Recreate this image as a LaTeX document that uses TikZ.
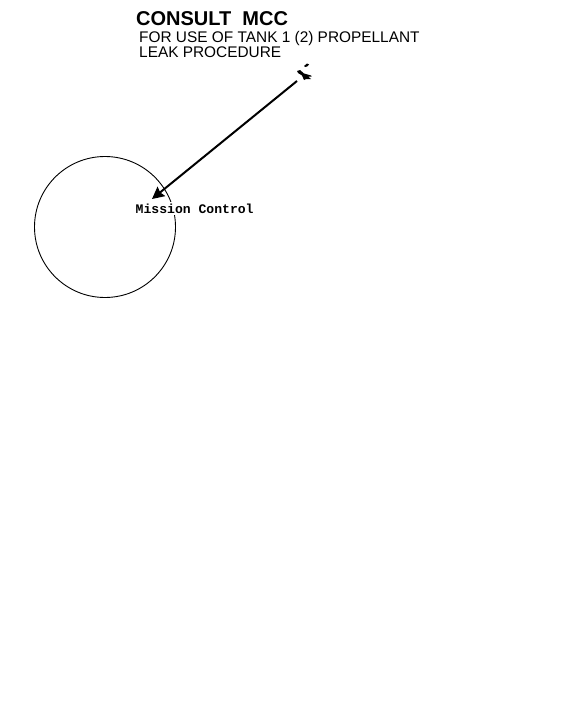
\documentclass[tikz,border=0pt]{standalone}
\usepackage{fontspec}
\setmainfont{Liberation Sans}
\setmonofont{Liberation Mono}
\usetikzlibrary{arrows.meta}
\tikzset{
  titletext/.style={anchor=base west,inner sep=0pt,font=\fontsize{20}{22}\selectfont\bfseries},
  subtext/.style={anchor=base west,inner sep=0pt,font=\fontsize{15.4}{17}\selectfont},
  labeltext/.style={anchor=base west,inner sep=1.5pt,fill=white,font=\fontsize{13.1}{15}\selectfont\ttfamily\bfseries},
  earth/.style={circle,draw=black,line width=0.9pt,minimum size=141pt,inner sep=0pt},
  link/.style={draw=black,line width=2pt,-{Stealth[length=12pt,width=12pt,inset=1.5pt]}}
}
\begin{document}
\begin{tikzpicture}[x=1pt,y=-1pt]
\useasboundingbox (0,0) rectangle (576,720);
\fill[white] (0,0) rectangle (576,720);
\node[earth] (earth) at (105,227) {};
\node[titletext] (title) at (136,25.5) {CONSULT\ \ MCC};
\node[subtext] (sub1) at (139,42.5) {FOR USE OF TANK 1 (2) PROPELLANT};
\node[subtext] (sub2) at (139,57) {LEAK PROCEDURE};
\node[labeltext] (mcc) at (134,213) {Mission Control};
\coordinate (sat) at (297,81);
\coordinate (tip) at (152,199);
\draw[link] (sat) -- (tip);
% spacecraft
\fill[black] (297,71) -- (300,70) -- (304,73.5) -- (311,75.5) -- (311.5,76.5) -- (308,76.5) -- (311,79) -- (306,79) -- (304,80) -- (302,75.5) -- (298,73) -- cycle;
\fill[black] (304,66) -- (307,63.5) -- (309,64.5) -- (307,66.5) -- (305,67) -- cycle;
\end{tikzpicture}
\end{document}
